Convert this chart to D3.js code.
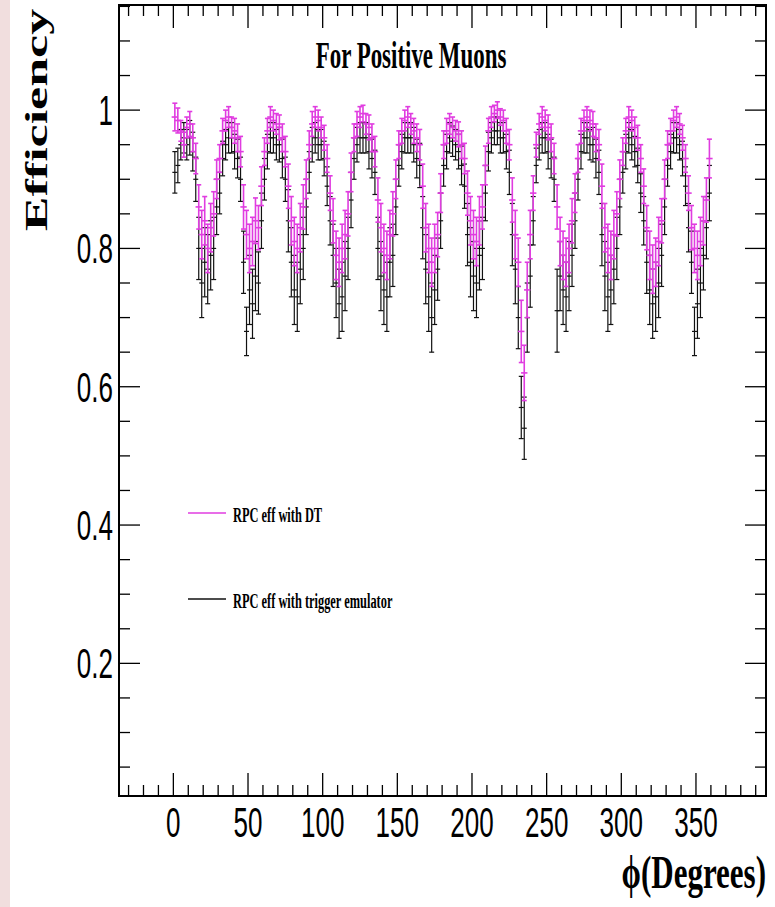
<!DOCTYPE html>
<html>
<head>
<meta charset="utf-8">
<script src="https://cdn.jsdelivr.net/npm/d3@7"></script>
<style>
  html, body { margin: 0; padding: 0; background: #fff; }
  svg { display: block; }
</style>
</head>
<body>
<svg id="chart" width="775" height="907"></svg>
<script>
// ---------------- DATA ----------------
// bin centres (degrees), 2-degree bins
const phiCenters = [
  1,3,5,7,9,11,13,15,17,19,21,23,25,27,29,
  31,33,35,37,39,41,43,45,47,49,51,53,55,57,59,
  61,63,65,67,69,71,73,75,77,79,81,83,85,87,89,
  91,93,95,97,99,101,103,105,107,109,111,113,115,117,119,
  121,123,125,127,129,131,133,135,137,139,141,143,145,147,149,
  151,153,155,157,159,161,163,165,167,169,171,173,175,177,179,
  181,183,185,187,189,191,193,195,197,199,201,203,205,207,209,
  211,213,215,217,219,221,223,225,227,229,231,233,235,237,239,
  241,243,245,247,249,251,253,255,257,259,261,263,265,267,269,
  271,273,275,277,279,281,283,285,287,289,291,293,295,297,299,
  301,303,305,307,309,311,313,315,317,319,321,323,325,327,329,
  331,333,335,337,339,341,343,345,347,349,351,353,355,357,359
];
const binWidth = 2;

// RPC eff with DT (magenta)
const effDT = [
  .99,.985,.97,.95,.975,.98,.96,.93,.86,.82,.84,.80,.83,.85,.90,
  .93,.97,.985,.99,.975,.97,.96,.94,.86,.82,.80,.81,.84,.83,.89,
  .94,.97,.99,.985,.98,.975,.96,.94,.89,.84,.81,.80,.83,.86,.90,
  .95,.98,.99,.985,.975,.96,.93,.88,.84,.79,.78,.80,.82,.85,.91,
  .96,.98,.99,.995,.98,.975,.96,.94,.87,.83,.80,.79,.82,.85,.90,
  .95,.97,.985,.99,.98,.97,.96,.95,.89,.83,.80,.78,.80,.82,.88,
  .95,.97,.98,.975,.97,.965,.95,.93,.88,.84,.82,.81,.84,.86,.92,
  .97,.99,.995,1.0,.99,.985,.97,.95,.87,.82,.78,.68,.62,.74,.82,
  .88,.95,.98,.99,.985,.975,.96,.93,.86,.81,.79,.78,.80,.84,.88,
  .93,.97,.985,.99,.985,.98,.96,.95,.89,.83,.80,.79,.82,.85,.90,
  .94,.97,.99,.985,.975,.96,.93,.89,.83,.79,.77,.78,.81,.84,.90,
  .95,.97,.985,.99,.98,.96,.93,.88,.83,.80,.79,.81,.84,.87,.93
];
const errDT = [
  .020,.018,.015,.018,.015,.018,.020,.022,.032,.035,.035,.035,.035,.032,.028,
  .020,.018,.015,.015,.015,.018,.020,.022,.032,.035,.035,.035,.033,.032,.028,
  .020,.018,.015,.015,.015,.018,.020,.022,.032,.035,.035,.035,.035,.032,.028,
  .020,.018,.015,.015,.015,.018,.020,.025,.032,.035,.035,.035,.035,.032,.028,
  .020,.018,.015,.012,.015,.018,.020,.022,.032,.035,.035,.035,.035,.032,.028,
  .020,.018,.015,.015,.015,.018,.020,.022,.032,.035,.035,.035,.035,.032,.028,
  .020,.018,.015,.015,.015,.018,.020,.022,.032,.035,.035,.035,.035,.032,.028,
  .018,.015,.012,.012,.012,.015,.018,.022,.032,.035,.035,.045,.040,.040,.035,
  .025,.018,.015,.015,.015,.018,.020,.022,.032,.035,.035,.035,.035,.032,.028,
  .020,.018,.015,.015,.015,.018,.020,.022,.032,.035,.035,.035,.035,.032,.028,
  .020,.018,.015,.015,.015,.018,.020,.025,.032,.035,.035,.035,.035,.032,.028,
  .020,.018,.015,.015,.015,.018,.020,.025,.032,.035,.035,.035,.035,.032,.028
];
// RPC eff with trigger emulator (black)
const effEmu = [
  .91,.92,.95,.96,.95,.96,.94,.90,.80,.75,.78,.77,.79,.80,.86,
  .88,.93,.95,.96,.96,.94,.93,.90,.78,.68,.74,.72,.76,.75,.84,
  .90,.94,.96,.96,.95,.95,.93,.90,.84,.78,.74,.73,.77,.80,.86,
  .91,.95,.96,.95,.95,.93,.89,.84,.79,.75,.72,.73,.76,.80,.87,
  .93,.95,.96,.96,.96,.94,.93,.91,.80,.76,.74,.73,.78,.79,.86,
  .92,.94,.96,.96,.96,.95,.93,.92,.83,.77,.73,.70,.74,.77,.84,
  .92,.94,.96,.955,.95,.94,.92,.89,.82,.78,.76,.75,.79,.80,.88,
  .94,.96,.97,.97,.96,.96,.94,.91,.82,.77,.70,.57,.54,.70,.76,
  .84,.92,.95,.96,.96,.94,.93,.90,.71,.76,.74,.73,.76,.79,.84,
  .90,.94,.96,.96,.95,.95,.93,.91,.82,.76,.73,.74,.77,.80,.86,
  .91,.94,.96,.95,.94,.92,.88,.84,.78,.74,.72,.73,.75,.79,.86,
  .92,.94,.96,.96,.95,.93,.89,.83,.78,.68,.72,.75,.79,.83,.88
];
const errEmu = [
  .030,.025,.022,.022,.022,.025,.028,.032,.045,.050,.050,.050,.050,.045,.040,
  .030,.025,.022,.022,.022,.025,.028,.032,.045,.035,.050,.050,.050,.045,.040,
  .030,.025,.022,.022,.022,.025,.028,.032,.045,.050,.050,.050,.050,.045,.040,
  .030,.025,.022,.022,.022,.025,.028,.035,.045,.050,.050,.050,.050,.045,.040,
  .030,.025,.022,.022,.022,.025,.028,.032,.045,.050,.050,.050,.050,.045,.040,
  .030,.025,.022,.022,.022,.025,.028,.032,.045,.050,.050,.050,.050,.045,.040,
  .030,.025,.022,.022,.022,.025,.028,.032,.045,.050,.050,.050,.050,.045,.040,
  .028,.022,.020,.020,.022,.022,.025,.032,.045,.050,.045,.045,.045,.050,.045,
  .035,.025,.022,.022,.022,.025,.028,.032,.060,.050,.050,.050,.050,.045,.040,
  .030,.025,.022,.022,.022,.025,.028,.032,.045,.050,.050,.050,.050,.045,.040,
  .030,.025,.022,.022,.022,.025,.028,.035,.045,.050,.050,.050,.050,.045,.040,
  .030,.025,.022,.022,.022,.025,.028,.035,.045,.035,.050,.050,.050,.045,.040
];

const xMajorTicks = [0,50,100,150,200,250,300,350];
const xMinorTicks = [-30,-20,-10,0,10,20,30,40,50,60,70,80,90,100,110,120,130,140,150,160,170,180,190,200,210,220,230,240,250,260,270,280,290,300,310,320,330,340,350,360,370,380,390];
const yMajorTicks = [0.2,0.4,0.6,0.8,1.0];
const yMinorTicks = [0.05,0.1,0.15,0.2,0.25,0.3,0.35,0.4,0.45,0.5,0.55,0.6,0.65,0.7,0.75,0.8,0.85,0.9,0.95,1.0,1.05,1.1,1.15];
const yTickLabels = ["0.2","0.4","0.6","0.8","1"];

const titleText = "For Positive Muons";
const xTitle = "\u03d5(Degrees)";
const yTitle = "Efficiency";
const legendLabels = ["RPC eff with DT", "RPC eff with trigger emulator"];
const seriesColors = ["#e03ce0", "#111111"];

// ---------------- LAYOUT ----------------
const svg = d3.select("#chart");
const L = 119, R = 766, T = 5, B = 796;
const x = d3.scaleLinear().domain([-36.4, 396.9]).range([L, R]);
const y = d3.scaleLinear().domain([0.0082, 1.152]).range([B, T]);
const SQ = 0.62; // horizontal squeeze of the original picture

svg.append("rect").attr("x", 0).attr("y", 0).attr("width", 10).attr("height", 907).attr("fill", "#f1dede");

// ---------------- DATA MARKS ----------------
function drawSeries(vals, errs, color, sw, mk) {
  const g = svg.append("g").attr("stroke", color).attr("stroke-width", sw).attr("fill", "none");
  phiCenters.forEach((c, i) => {
    const v = vals[i], e = errs[i];
    const xc = x(c);
    const hw = Math.max(mk, (x(c + binWidth / 2) - x(c - binWidth / 2)) / 2);
    g.append("line").attr("x1", xc - hw).attr("x2", xc + hw).attr("y1", y(v)).attr("y2", y(v));
    g.append("line").attr("x1", xc).attr("x2", xc).attr("y1", y(v - e)).attr("y2", y(v + e));
    g.append("line").attr("x1", xc - 2.5).attr("x2", xc + 2.5).attr("y1", y(v - e)).attr("y2", y(v - e));
    g.append("line").attr("x1", xc - 2.5).attr("x2", xc + 2.5).attr("y1", y(v + e)).attr("y2", y(v + e));
  });
}
drawSeries(effEmu, errEmu, seriesColors[1], 1.2, 2.5);
drawSeries(effDT, errDT, seriesColors[0], 1.6, 3.2);

// ---------------- AXES / FRAME ----------------
const axG = svg.append("g").attr("stroke", "#000").attr("stroke-width", 1.3);
xMinorTicks.forEach(t => {
  const major = xMajorTicks.includes(t);
  const len = major ? 23 : 11;
  axG.append("line").attr("x1", x(t)).attr("x2", x(t)).attr("y1", B).attr("y2", B - len);
  axG.append("line").attr("x1", x(t)).attr("x2", x(t)).attr("y1", T).attr("y2", T + len);
});
yMinorTicks.forEach(t => {
  const major = yMajorTicks.some(m => Math.abs(m - t) < 1e-9);
  const len = major ? 21 : 11;
  axG.append("line").attr("x1", L).attr("x2", L + len).attr("y1", y(t)).attr("y2", y(t));
  axG.append("line").attr("x1", R).attr("x2", R - len).attr("y1", y(t)).attr("y2", y(t));
});
svg.append("rect").attr("x", L).attr("y", T).attr("width", R - L).attr("height", B - T)
  .attr("fill", "none").attr("stroke", "#000").attr("stroke-width", 2);

// ---------------- TEXT ----------------
function sqText(tx, ty, txt, opts) {
  return svg.append("text")
    .attr("transform", `translate(${tx},${ty}) scale(${opts.sx || SQ},1)` + (opts.rot ? ` rotate(${opts.rot})` : ""))
    .attr("x", 0).attr("y", 0)
    .attr("text-anchor", opts.anchor || "start")
    .attr("font-family", opts.family)
    .attr("font-size", opts.size)
    .attr("font-weight", opts.weight || "normal")
    .attr("fill", "#000")
    .text(txt);
}
yMajorTicks.forEach((t, i) => {
  sqText(113, y(t) + 15, yTickLabels[i], { family: "Liberation Sans, Arial, sans-serif", size: 42, anchor: "end" });
});
xMajorTicks.forEach(t => {
  sqText(x(t), 837, String(t), { family: "Liberation Sans, Arial, sans-serif", size: 42, anchor: "middle" });
});
sqText(411, 68, titleText, { family: "Liberation Serif, Times New Roman, serif", size: 37, weight: "bold", anchor: "middle" });
sqText(766, 888, xTitle, { family: "Liberation Serif, Times New Roman, serif", size: 47, weight: "bold", anchor: "end", sx: 0.66 });
sqText(47, 120, yTitle, { family: "Liberation Serif, Times New Roman, serif", size: 52, weight: "bold", anchor: "middle", rot: -90 });

const legendY = [513, 599];
legendLabels.forEach((lab, i) => {
  svg.append("line").attr("x1", 188).attr("x2", 226).attr("y1", legendY[i]).attr("y2", legendY[i])
    .attr("stroke", seriesColors[i]).attr("stroke-width", 1.5);
  sqText(233, legendY[i] + 9, lab, { family: "Liberation Serif, Times New Roman, serif", size: 20, weight: "bold" });
});
</script>
</body>
</html>
